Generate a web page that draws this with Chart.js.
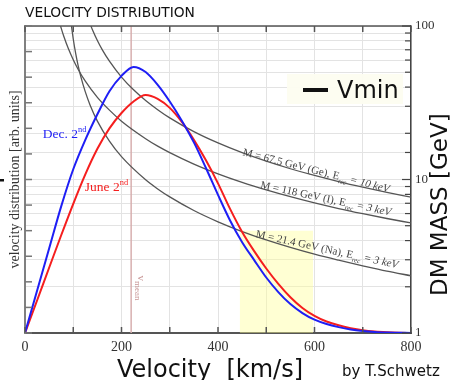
<!DOCTYPE html>
<html>
<head>
<meta charset="utf-8">
<script src="https://cdn.jsdelivr.net/npm/chart.js@4.4.1/dist/chart.umd.min.js"></script>
<style>
  html, body { margin: 0; padding: 0; background: #fff; }
</style>
</head>
<body>
<canvas id="velChart" width="453" height="380"></canvas>
<script>
// velocity grid (km/s) for the two distributions
const velocity = [0, 25, 50, 75, 100, 125, 150, 175, 200, 225, 250, 275, 300, 325, 350, 375, 400,
  425, 450, 475, 500, 525, 550, 575, 600, 625, 650, 675, 700, 725, 750, 775, 800];
const decValues = [0, 1.65, 3.3, 4.95, 6.4, 7.55, 8.55, 9.45, 10.05, 10.4, 10.2, 9.7, 9.05, 8.3, 7.45, 6.45, 5.4,
  4.4, 3.55, 2.85, 2.17, 1.6, 1.13, 0.78, 0.52, 0.35, 0.23, 0.14, 0.08, 0.04, 0.02, 0.01, 0];
const juneValues = [0, 1.27, 2.55, 3.82, 5.05, 6.2, 7.2, 8.0, 8.6, 9.05, 9.3, 9.15, 8.8, 8.25, 7.55, 6.75, 5.85,
  4.85, 3.95, 3.2, 2.52, 1.92, 1.4, 0.98, 0.67, 0.45, 0.3, 0.19, 0.11, 0.06, 0.03, 0.01, 0];

// vmin curves: DM mass (GeV) against velocity
const geVelocity = [130, 135, 140, 150, 160, 175, 200, 225, 250, 275, 300, 350, 400, 450, 500, 550, 600, 650, 700, 750, 800];
const geMass = [113.8, 103.1, 94.3, 80.5, 70.2, 59.0, 46.5, 38.4, 32.7, 28.5, 25.2, 20.5, 17.3, 14.95, 13.16, 11.75, 10.62, 9.69, 8.91, 8.24, 7.67];
const iVelocity = [65, 70, 75, 80, 90, 100, 110, 125, 150, 175, 200, 250, 275, 300, 350, 400, 450, 500, 550, 600, 650, 700, 750, 800];
const iMass = [127.8, 110.2, 96.8, 86.3, 71.0, 60.3, 52.3, 43.7, 34.3, 28.3, 24.0, 18.45, 16.5, 14.98, 12.61, 10.89, 9.58, 8.56, 7.73, 7.04, 6.47, 5.99, 5.57, 5.21];
const naVelocity = [93, 95, 97, 100, 105, 110, 115, 125, 135, 150, 175, 200, 250, 275, 300, 350, 400, 450, 500, 550, 600, 650, 700, 750, 800];
const naMass = [124.5, 108.7, 96.3, 82.3, 66.3, 55.4, 47.7, 37.2, 30.5, 24.0, 17.76, 14.08, 9.95, 8.68, 7.70, 6.28, 5.30, 4.58, 4.04, 3.61, 3.26, 2.98, 2.74, 2.53, 2.36];

const vMean = 220;
const shadeFrom = 445;
const shadeTo = 597;
const shadeTop = 4.0;
const xTickLabels = [0, 200, 400, 600, 800];
const massTickLabels = [1, 10, 100];

const serif = 'Liberation Serif';
const sans = 'DejaVu Sans';
const gridGray = '#e3e3e3';

const toPoints = (xs, ys) => xs.map((v, i) => ({ x: v, y: ys[i] }));

function drawRich(ctx, parts, size, family, scriptScale) {
  let x = 0;
  parts.forEach(p => {
    const s = p.script ? size * (scriptScale || 0.62) : size;
    ctx.font = (p.italic ? 'italic ' : '') + s + 'px "' + family + '"';
    let dy = 0;
    if (p.script === 'sub') dy = size * 0.3;
    if (p.script === 'sup') dy = -size * 0.42;
    ctx.fillText(p.text, x, dy);
    x += ctx.measureText(p.text).width;
  });
}

// inward ticks and top border
const scaleFrame = {
  id: 'scaleFrame',
  afterDraw(chart) {
    const { ctx, chartArea: a, scales } = chart;
    ctx.save();
    ctx.strokeStyle = '#555';
    ctx.lineWidth = 1.5;
    ctx.beginPath();
    ctx.moveTo(a.left, a.top);
    ctx.lineTo(a.right, a.top);
    ctx.stroke();
    scales.x.ticks.forEach(t => {
      const px = scales.x.getPixelForValue(t.value);
      ctx.beginPath();
      ctx.moveTo(px, a.bottom);
      ctx.lineTo(px, a.bottom - 6);
      ctx.moveTo(px, a.top);
      ctx.lineTo(px, a.top + 6);
      ctx.stroke();
    });
    ctx.strokeStyle = '#777';
    scales.y.ticks.forEach(t => {
      const py = scales.y.getPixelForValue(t.value);
      ctx.beginPath();
      ctx.moveTo(a.left, py);
      ctx.lineTo(a.left + 7, py);
      ctx.stroke();
    });
    ctx.strokeStyle = '#444';
    ctx.lineWidth = 1.2;
    scales.y2.ticks.forEach(t => {
      const py = scales.y2.getPixelForValue(t.value);
      const len = massTickLabels.includes(t.value) ? 9 : 6;
      ctx.beginPath();
      ctx.moveTo(a.right, py);
      ctx.lineTo(a.right - len, py);
      ctx.stroke();
    });
    ctx.restore();
  }
};

// text annotations, legend box and titles
const annotations = {
  id: 'annotations',
  afterDraw(chart) {
    const { ctx, chartArea: a, scales } = chart;
    const { x, y, y2 } = scales;
    ctx.save();
    ctx.textBaseline = 'alphabetic';
    ctx.textAlign = 'left';

    // curve labels
    const curveLabels = [
      { v: 450, m: 14.4, angle: 14.3, parts: [{ text: 'M = 67.5 GeV (Ge), E' }, { text: 'rec', script: 'sub', italic: true }, { text: ' = 10 keV', italic: true }] },
      { v: 487, m: 8.8, angle: 12.0, parts: [{ text: 'M = 118 GeV (I), E' }, { text: 'rec', script: 'sub', italic: true }, { text: ' = 3 keV', italic: true }] },
      { v: 477, m: 4.22, angle: 12.4, parts: [{ text: 'M = 21.4 GeV (Na), E' }, { text: 'rec', script: 'sub', italic: true }, { text: ' = 3 keV', italic: true }] }
    ];
    ctx.fillStyle = '#444';
    curveLabels.forEach(l => {
      ctx.save();
      ctx.translate(x.getPixelForValue(l.v), y2.getPixelForValue(l.m));
      ctx.rotate(l.angle * Math.PI / 180);
      drawRich(ctx, l.parts, 11, serif);
      ctx.restore();
    });

    // season labels
    ctx.save();
    ctx.fillStyle = 'rgb(30,30,245)';
    ctx.translate(x.getPixelForValue(37), y.getPixelForValue(7.62));
    drawRich(ctx, [{ text: 'Dec. 2' }, { text: 'nd', script: 'sup' }], 13.5, serif);
    ctx.restore();
    ctx.save();
    ctx.fillStyle = 'rgb(245,30,30)';
    ctx.translate(x.getPixelForValue(124), y.getPixelForValue(5.55));
    drawRich(ctx, [{ text: 'June 2' }, { text: 'nd', script: 'sup' }], 13.5, serif);
    ctx.restore();

    // v_mean label
    ctx.save();
    ctx.fillStyle = 'rgb(200,150,150)';
    ctx.translate(x.getPixelForValue(vMean) + 7, y.getPixelForValue(2.25));
    ctx.rotate(Math.PI / 2);
    drawRich(ctx, [{ text: 'v' }, { text: 'mean', script: 'sub' }], 11, serif, 0.82);
    ctx.restore();

    // legend box
    const bx = a.right - 124, by = a.top + 48;
    ctx.fillStyle = 'rgba(253,253,240,0.95)';
    ctx.fillRect(bx, by, 116, 30);
    ctx.strokeStyle = '#111';
    ctx.lineWidth = 4;
    ctx.beginPath();
    ctx.moveTo(bx + 16, by + 16);
    ctx.lineTo(bx + 41, by + 16);
    ctx.stroke();
    ctx.fillStyle = '#111';
    ctx.font = '24px "' + sans + '"';
    ctx.fillText('Vmin', bx + 50, by + 24);

    // titles
    ctx.fillStyle = '#111';
    ctx.font = '13.8px "' + sans + '"';
    ctx.fillText('VELOCITY DISTRIBUTION', a.left, 17);
    ctx.font = '24px "' + sans + '"';
    ctx.fillText('Velocity  [km/s]', 117, 377);
    ctx.font = '15px "' + sans + '"';
    ctx.fillText('by T.Schwetz', 342, 376);
    ctx.save();
    ctx.translate(447, 296);
    ctx.rotate(-Math.PI / 2);
    ctx.font = '23px "' + sans + '"';
    ctx.fillText('DM MASS [GeV]', 0, 0);
    ctx.restore();

    ctx.fillRect(0, 179, 4, 2.5);
    ctx.restore();
  }
};

new Chart(document.getElementById('velChart'), {
  type: 'line',
  data: {
    datasets: [
      {
        label: 'Dec. 2nd',
        data: toPoints(velocity, decValues),
        borderColor: 'rgb(30,30,245)',
        borderWidth: 2,
        pointRadius: 0,
        cubicInterpolationMode: 'monotone',
        yAxisID: 'y'
      },
      {
        label: 'June 2nd',
        data: toPoints(velocity, juneValues),
        borderColor: 'rgb(245,30,30)',
        borderWidth: 2,
        pointRadius: 0,
        cubicInterpolationMode: 'monotone',
        yAxisID: 'y'
      },
      {
        label: 'Ge',
        data: toPoints(geVelocity, geMass),
        borderColor: '#555',
        borderWidth: 1.3,
        pointRadius: 0,
        cubicInterpolationMode: 'monotone',
        yAxisID: 'y2'
      },
      {
        label: 'I',
        data: toPoints(iVelocity, iMass),
        borderColor: '#555',
        borderWidth: 1.3,
        pointRadius: 0,
        cubicInterpolationMode: 'monotone',
        yAxisID: 'y2'
      },
      {
        label: 'Na',
        data: toPoints(naVelocity, naMass),
        borderColor: '#555',
        borderWidth: 1.3,
        pointRadius: 0,
        cubicInterpolationMode: 'monotone',
        yAxisID: 'y2'
      },
      {
        label: 'vmean',
        data: [{ x: vMean, y: 0 }, { x: vMean, y: 12 }],
        borderColor: 'rgb(215,175,175)',
        borderWidth: 1.5,
        pointRadius: 0,
        yAxisID: 'y'
      },
      {
        label: 'shade',
        data: [{ x: shadeFrom, y: shadeTop }, { x: shadeTo, y: shadeTop }],
        borderWidth: 0,
        pointRadius: 0,
        fill: 'origin',
        backgroundColor: 'rgba(255,255,150,0.42)',
        yAxisID: 'y'
      }
    ]
  },
  options: {
    responsive: false,
    animation: false,
    layout: { padding: { top: 26, left: 0, right: 0, bottom: 0 } },
    plugins: {
      legend: { display: false },
      tooltip: { enabled: false }
    },
    scales: {
      x: {
        type: 'linear',
        min: 0,
        max: 800,
        afterFit(scale) { scale.height = 47; },
        grid: { color: gridGray, drawTicks: false },
        border: { color: '#555', width: 2 },
        ticks: {
          stepSize: 100,
          autoSkip: false,
          maxRotation: 0,
          padding: 6,
          color: '#333',
          font: { family: serif, size: 14 },
          callback: v => xTickLabels.includes(v) ? String(v) : ''
        }
      },
      y: {
        type: 'linear',
        position: 'left',
        min: 0,
        max: 12,
        afterFit(scale) { scale.width = 25; },
        grid: { drawOnChartArea: false, drawTicks: false },
        border: { color: '#808080', width: 2 },
        ticks: { display: false, stepSize: 1 },
        title: {
          display: true,
          text: 'velocity distribution [arb. units]',
          color: '#333',
          font: { family: serif, size: 14 },
          padding: { top: 7, bottom: 0 }
        }
      },
      y2: {
        type: 'logarithmic',
        position: 'right',
        min: 1,
        max: 100,
        afterFit(scale) { scale.width = 42; },
        grid: { color: gridGray, drawTicks: false },
        border: { color: '#444', width: 1.5 },
        ticks: {
          autoSkip: false,
          padding: 4,
          color: '#333',
          font: { family: serif, size: 13 },
          callback: v => massTickLabels.includes(v) ? String(v) : ''
        }
      }
    }
  },
  plugins: [scaleFrame, annotations]
});
</script>
</body>
</html>
